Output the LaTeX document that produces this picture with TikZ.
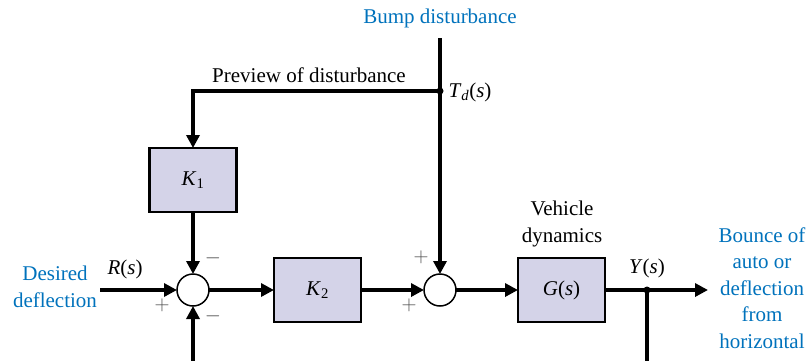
\documentclass[tikz,border=0pt]{standalone}
\usepackage{fontspec}
\setmainfont{Liberation Serif}
\usetikzlibrary{arrows.meta,positioning}
\definecolor{boxfill}{RGB}{212,211,232}
\definecolor{labelblue}{RGB}{0,114,188}
\newcommand{\vi}[1]{\textit{#1}}
\tikzset{
  block/.style={draw=black, line width=2.2pt, fill=boxfill, minimum width=87pt, minimum height=64pt, inner sep=0pt, outer sep=0pt},
  summer/.style={draw=black, line width=1.5pt, circle, fill=white, minimum size=32pt, inner sep=0pt, outer sep=0pt},
  signal/.style={-{Triangle[length=13pt, width=13pt]}, line width=3.3pt},
  wire/.style={line width=3.3pt},
  sign/.style={text=black!70, inner sep=0pt},
  note/.style={text=labelblue, align=center},
  tap/.style={circle, fill=black, inner sep=0pt, minimum size=7pt}
}

\begin{document}
\begin{tikzpicture}[x=1pt, y=-1pt, font=\fontsize{21}{26.5}\selectfont]
  \useasboundingbox (0,0) rectangle (808,360);

  \node[summer] (sum1) at (193,290) {};
  \node[block, right=65pt of sum1] (k2) {\vi{K}\textsubscript{2}};
  \node[summer, right=63pt of k2] (sum2) {};
  \node[block, right=62pt of sum2] (plant) {\vi{G}(\vi{s})};
  \node[block, above=62pt of sum1] (k1) {\vi{K}\textsubscript{1}};

  \coordinate (bump) at (440,38);
  \coordinate (td) at (440,91);
  \coordinate (rin) at (100,290);
  \coordinate (ytap) at (647,290);
  \coordinate (yout) at (708,290);
  \coordinate (fbot) at (647,362);
  \coordinate (sbot) at (193,362);

  % disturbance path
  \draw[wire] (bump) -- (td);
  \draw[signal] (td) -- (sum2);
  \draw[signal] (td) -| (k1);
  \node[tap] at (td) {};

  % forward path
  \draw[signal] (k1) -- (sum1);
  \draw[signal] (rin) -- (sum1);
  \draw[signal] (sum1) -- (k2);
  \draw[signal] (k2) -- (sum2);
  \draw[signal] (sum2) -- (plant);
  \draw[signal] (plant) -- (yout);
  \draw[wire] (ytap) -- (fbot);
  \draw[signal] (sbot) -- (sum1);
  \node[tap] at (ytap) {};

  % labels
  \node[note] (bumplbl) at (440,18) {Bump disturbance};
  \node (prevlbl) at (309,75) {Preview of disturbance};
  \node (tdlbl) at (470,92) {\vi{T}\textsubscript{\vi{d}}(\vi{s})};
  \node (rlbl) at (125,269) {\vi{R}(\vi{s})};
  \node[note] (inlbl) at (55,287) {Desired\\deflection};
  \node[align=center] (vehlbl) at (562,224) {Vehicle\\dynamics};
  \node (ylbl) at (647,268) {\vi{Y}(\vi{s})};
  \node[note] (outlbl) at (762,288) {Bounce of\\auto or\\deflection\\from\\horizontal};

  % signs
  \node[sign] at (213,258) {$-$};
  \node[sign] at (162,305) {$+$};
  \node[sign] at (213,316) {$-$};
  \node[sign] at (421,257) {$+$};
  \node[sign] at (409,305) {$+$};
\end{tikzpicture}
\end{document}
